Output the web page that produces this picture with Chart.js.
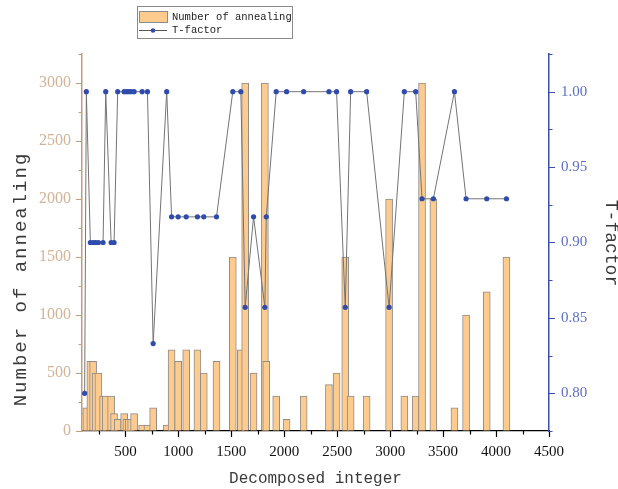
<!DOCTYPE html>
<html>
<head>
<meta charset="utf-8">
<script src="https://cdn.jsdelivr.net/npm/chart.js@4.4.1/dist/chart.umd.min.js"></script>
<style>
  html, body { margin: 0; padding: 0; background: #fff; }
  #wrap { width: 618px; height: 489px; }
</style>
</head>
<body>
<div id="wrap"><canvas id="chart" width="618" height="489"></canvas></div>
<script>
const xValues = [115, 131, 169, 195, 219, 245, 289, 314, 365, 393,
  427, 488, 509, 531, 554, 582, 658, 708, 762, 890,
  936, 998, 1074, 1180, 1240, 1360, 1514, 1590, 1631, 1710,
  1817, 1830, 1924, 2022, 2183, 2422, 2494, 2576, 2627, 2778,
  2990, 3134, 3241, 3301, 3408, 3607, 3717, 3912, 4098];
const annealCounts = [150, 200, 600, 600, 500, 500, 300, 300, 300, 150,
  100, 150, 100, 100, 100, 150, 50, 50, 200, 50,
  700, 600, 700, 700, 500, 600, 1500, 700, 3000, 500,
  3000, 600, 300, 100, 300, 400, 500, 1500, 300, 300,
  2000, 300, 300, 3000, 2000, 200, 1000, 1200, 1500];
const tFactors = [0.80, 1.00, 0.90, 0.90, 0.90, 0.90, 0.90, 1.00, 0.90, 0.90,
  1.00, 1.00, 1.00, 1.00, 1.00, 1.00, 1.00, 1.00, 0.833, 1.00,
  0.917, 0.917, 0.917, 0.917, 0.917, 0.917, 1.00, 1.00, 0.857, 0.917,
  0.857, 0.917, 1.00, 1.00, 1.00, 1.00, 1.00, 0.857, 1.00, 1.00,
  0.857, 1.00, 1.00, 0.929, 0.929, 1.00, 0.929, 0.929, 0.929];

const xTicks = [500, 1000, 1500, 2000, 2500, 3000, 3500, 4000, 4500];
const countTicks = [0, 500, 1000, 1500, 2000, 2500, 3000];
const tTicks = [0.80, 0.85, 0.90, 0.95, 1.00];

const barFill = '#fecb8f';
const barEdge = '#8c8c8c';
const dotColor = '#2f4bab';
const tanAxis = '#c49c78';
const blueAxis = '#3a4fae';

function drawTicks(ctx, scale, majors, side, color) {
  const step = majors[1] - majors[0];
  const minors = [majors[0] - step / 2, ...majors.map(v => v + step / 2)]
    .filter(v => v >= scale.min - 1e-9 && v <= scale.max + 1e-9);
  ctx.strokeStyle = color;
  ctx.lineWidth = 1.2;
  ctx.beginPath();
  const mark = (v, len) => {
    const p = Math.round(scale.getPixelForValue(v)) + 0.5;
    if (side === 'bottom') { ctx.moveTo(p, scale.top); ctx.lineTo(p, scale.top + len); }
    else if (side === 'left') { ctx.moveTo(scale.right, p); ctx.lineTo(scale.right - len, p); }
    else { ctx.moveTo(scale.left, p); ctx.lineTo(scale.left + len, p); }
  };
  majors.forEach(v => mark(v, 6));
  minors.forEach(v => mark(v, 3.5));
  ctx.stroke();
}

function vText(ctx, text, x, y, angle, font, spacing) {
  ctx.save();
  ctx.translate(x, y);
  ctx.rotate(angle);
  ctx.font = font;
  ctx.letterSpacing = spacing || '0px';
  ctx.textAlign = 'center';
  ctx.textBaseline = 'middle';
  ctx.fillText(text, 0, 0);
  ctx.restore();
}

const frame = {
  id: 'frame',
  afterDraw(chart) {
    const ctx = chart.ctx;
    const { x, y, y2 } = chart.scales;
    ctx.save();
    drawTicks(ctx, x, xTicks, 'bottom', '#000');
    drawTicks(ctx, y, countTicks, 'left', tanAxis);
    drawTicks(ctx, y2, tTicks, 'right', blueAxis);

    // axis titles
    ctx.fillStyle = '#3a3a3a';
    vText(ctx, 'Number of annealing', 21, 279, -Math.PI / 2, '19px "Liberation Mono"', '2px');
    vText(ctx, 'T-factor', 611, 243, Math.PI / 2, '18px "Liberation Mono"');
    vText(ctx, 'Decomposed integer', 315.5, 479, 0, '16px "Liberation Mono"');

    // legend box
    const ds = chart.data.datasets;
    ctx.lineWidth = 1;
    ctx.strokeStyle = '#8a8a8a';
    ctx.strokeRect(137.5, 6.5, 155, 32);
    ctx.fillStyle = barFill;
    ctx.fillRect(139.5, 11.5, 28, 11);
    ctx.strokeStyle = barEdge;
    ctx.strokeRect(139.5, 11.5, 28, 11);
    ctx.strokeStyle = '#555';
    ctx.beginPath();
    ctx.moveTo(139, 30.5);
    ctx.lineTo(167, 30.5);
    ctx.stroke();
    ctx.fillStyle = dotColor;
    ctx.beginPath();
    ctx.arc(153, 30.5, 2.3, 0, Math.PI * 2);
    ctx.fill();
    ctx.fillStyle = '#222';
    ctx.font = '10.5px "Liberation Mono"';
    ctx.textAlign = 'left';
    ctx.textBaseline = 'middle';
    ctx.fillText(ds[0].label, 172, 17);
    ctx.fillText(ds[1].label, 172, 30.5);
    ctx.restore();
  }
};

const hiddenGrid = { drawOnChartArea: false, color: 'rgba(0,0,0,0)', tickLength: 7 };

new Chart(document.getElementById('chart'), {
  type: 'bar',
  data: {
    datasets: [{
      type: 'bar',
      label: 'Number of annealing',
      data: xValues.map((v, i) => ({ x: v, y: annealCounts[i] })),
      xAxisID: 'x',
      yAxisID: 'y',
      backgroundColor: barFill,
      borderColor: barEdge,
      borderWidth: 1,
      barThickness: 7,
      order: 2
    }, {
      type: 'line',
      label: 'T-factor',
      data: xValues.map((v, i) => ({ x: v, y: tFactors[i] })),
      xAxisID: 'x',
      yAxisID: 'y2',
      borderColor: '#747474',
      borderWidth: 1,
      pointRadius: 2.6,
      pointBackgroundColor: dotColor,
      pointBorderWidth: 0,
      tension: 0,
      order: 1
    }]
  },
  options: {
    responsive: false,
    animation: false,
    layout: { padding: { top: 54, left: 0, right: 0, bottom: 0 } },
    plugins: { legend: { display: false }, tooltip: { enabled: false } },
    scales: {
      x: {
        type: 'linear',
        min: 90,
        max: 4500,
        offset: false,
        afterBuildTicks: s => { s.ticks = xTicks.map(v => ({ value: v })); },
        afterFit: s => { s.height = 58; },
        grid: hiddenGrid,
        border: { color: '#000', width: 1.2 },
        ticks: {
          color: '#111',
          font: { family: 'Liberation Serif', size: 15 },
          padding: 5,
          maxRotation: 0,
          autoSkip: false,
          callback: v => String(v)
        }
      },
      y: {
        type: 'linear',
        position: 'left',
        min: 0,
        max: 3250,
        afterBuildTicks: s => { s.ticks = countTicks.map(v => ({ value: v })); },
        afterFit: s => { s.width = 82; },
        grid: hiddenGrid,
        border: { color: tanAxis, width: 1.5 },
        ticks: {
          color: '#d4b296',
          font: { family: 'Liberation Serif', size: 16 },
          padding: 4,
          callback: v => String(v)
        }
      },
      y2: {
        type: 'linear',
        position: 'right',
        min: 0.775,
        max: 1.025,
        afterBuildTicks: s => { s.ticks = tTicks.map(v => ({ value: v })); },
        afterFit: s => { s.width = 69; },
        grid: hiddenGrid,
        border: { color: blueAxis, width: 1.5 },
        ticks: {
          color: '#5d6fc2',
          font: { family: 'Liberation Serif', size: 15 },
          padding: 5,
          callback: v => v.toFixed(2)
        }
      }
    }
  },
  plugins: [frame]
});
</script>
</body>
</html>
